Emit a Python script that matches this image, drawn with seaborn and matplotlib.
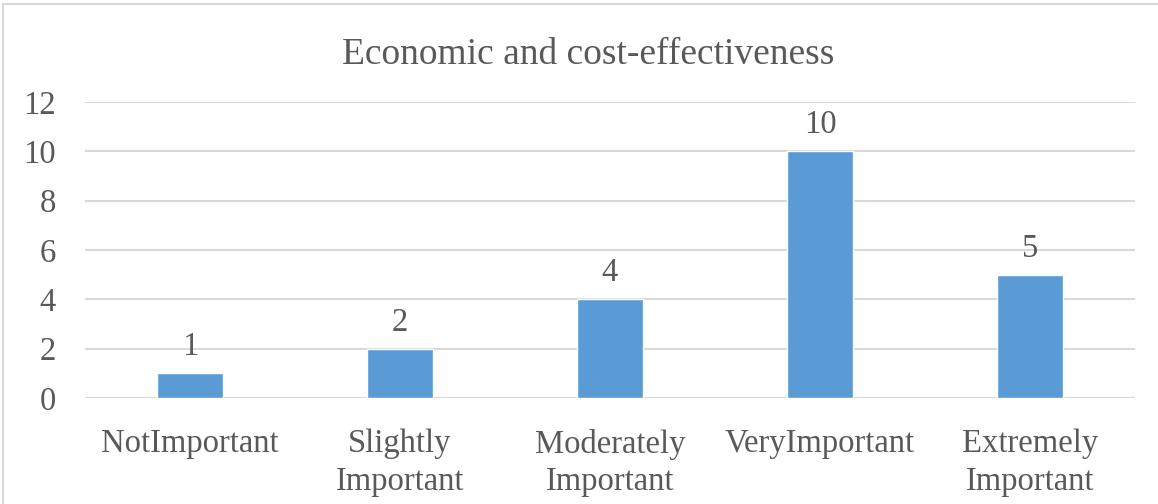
import matplotlib
matplotlib.use("Agg")
import matplotlib.pyplot as plt
import seaborn as sns
import pandas as pd
from matplotlib.patches import Rectangle

categories = ["NotImportant", "Slightly\nImportant", "Moderately\nImportant",
              "VeryImportant", "Extremely\nImportant"]
counts = [1, 2, 4, 10, 5]
y_ticks = [0, 2, 4, 6, 8, 10, 12]
title = "Economic and cost-effectiveness"

text_color = "#595959"
grid_color = "#d9d9d9"
bar_color = "#5b9bd5"

sns.set_theme(style="white")
plt.rcParams["font.family"] = ["Liberation Serif", "DejaVu Serif"]

df = pd.DataFrame({"category": categories, "count": counts})

fig = plt.figure(figsize=(11.58, 5.04), dpi=100)
ax = fig.add_axes([85 / 1158, 106 / 504, 1050 / 1158, 296 / 504])

sns.barplot(data=df, x="category", y="count", color=bar_color,
            width=0.31, saturation=1, ax=ax, zorder=3)

ax.set_ylim(0, 12)
ax.set_xlim(-0.5, len(categories) - 0.5)
ax.set_yticks(y_ticks)
ax.set_yticklabels([str(v) for v in y_ticks])
ax.yaxis.grid(True, color=grid_color, linewidth=1.5, zorder=0)
ax.set_axisbelow(True)
for s in ax.spines.values():
    s.set_visible(False)
ax.axhline(0, color=grid_color, linewidth=1.5, zorder=1)

ax.tick_params(axis="y", length=0, pad=21, labelsize=23.5, labelcolor=text_color)
ax.tick_params(axis="x", length=0, pad=22, labelsize=23.5, labelcolor=text_color)
for lbl in ax.get_xticklabels():
    lbl.set_linespacing(1.3)
ax.set_xlabel("")
ax.set_ylabel("")

for container in ax.containers:
    ax.bar_label(container, labels=[str(v) for v in counts], padding=8,
                 fontsize=23.5, color=text_color)

fig.text(588 / 1158, 1 - 55 / 504, title, ha="center", va="center",
         fontsize=27, color=text_color)

# outer chart frame
fig.patches.append(Rectangle((3 / 1158, -0.01), 1.0, 1 - 4 / 504 + 0.01,
                             transform=fig.transFigure, fill=False,
                             edgecolor=grid_color, linewidth=1.5))

fig.savefig("out.png", dpi=100)
